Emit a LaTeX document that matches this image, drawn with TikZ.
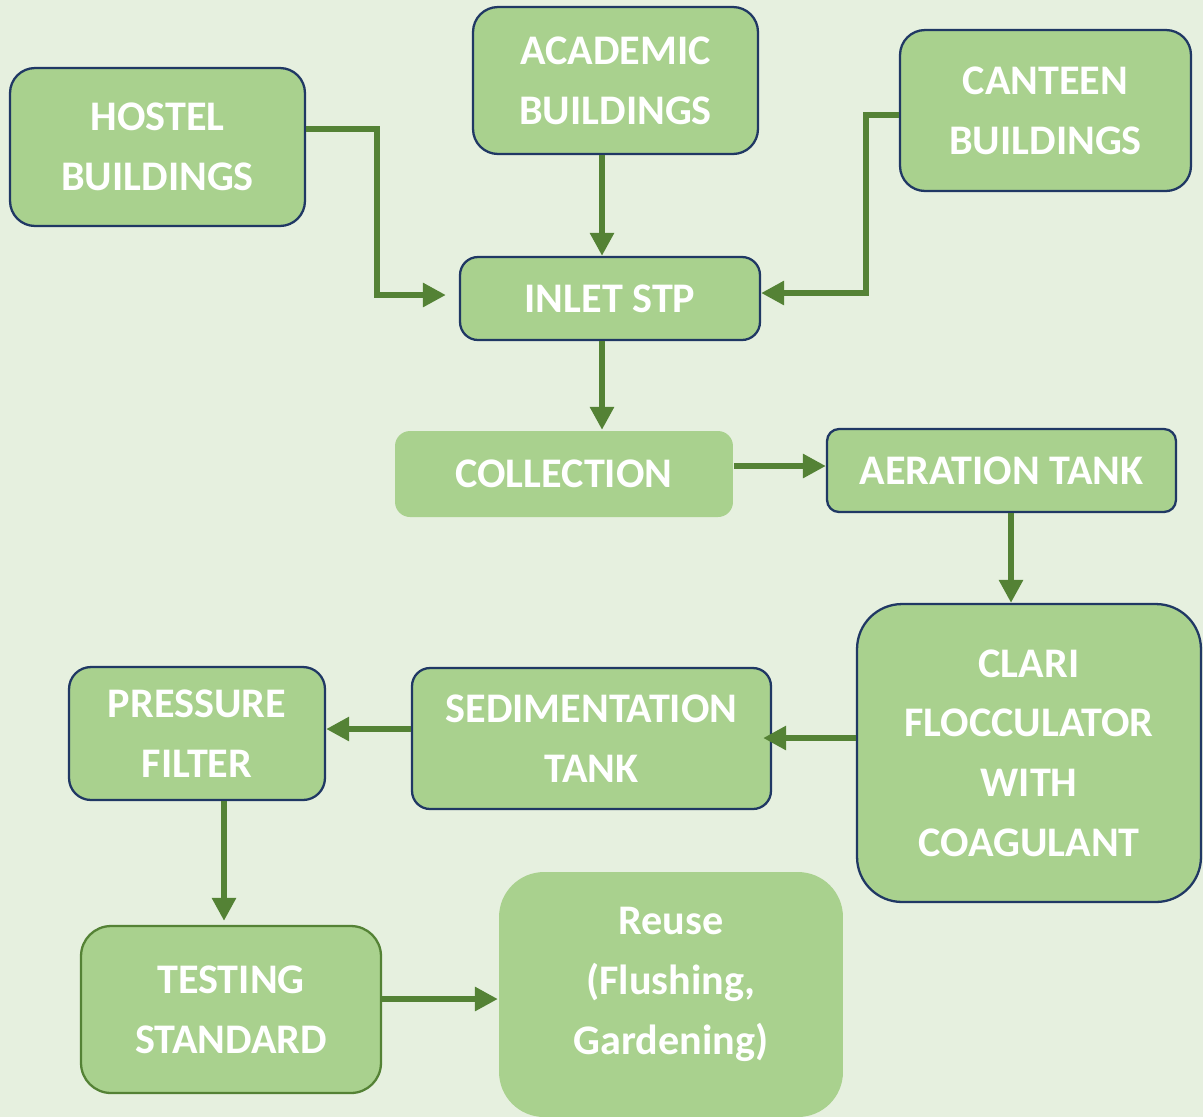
\documentclass[tikz,border=0pt]{standalone}
\usepackage{fontspec}
\setmainfont{Carlito}
\usepackage{xcolor}
\usepackage{tikz}
\usetikzlibrary{arrows.meta,positioning}
\definecolor{bg}{HTML}{E6F0DF}
\definecolor{boxfill}{HTML}{A9D18E}
\definecolor{navy}{HTML}{203864}
\definecolor{flowgreen}{HTML}{548235}
\tikzset{
    stage/.style={fill=boxfill, draw=navy, line width=1.3pt, text=white,
        font=\fontsize{24}{34}\selectfont\bfseries, align=center, inner sep=0pt},
    flow/.style={draw=flowgreen, line width=0.12cm,
        -{Triangle[length=0.46cm,width=0.46cm]}}
}

\begin{document}
\begin{tikzpicture}[x=0.02cm,y=-0.02cm]
        \fill[bg] (0,0) rectangle (1203,1117);
        \useasboundingbox (0,0) rectangle (1203,1117);

        \node[stage, rounded corners=0.5cm, minimum width=5.9cm, minimum height=3.16cm]
            (hostel) at (157.5,147) {HOSTEL\\BUILDINGS};
        \node[stage, rounded corners=0.5cm, minimum width=5.7cm, minimum height=2.94cm]
            (academic) at (615.5,80.5) {ACADEMIC\\BUILDINGS};
        \node[stage, rounded corners=0.5cm, minimum width=5.82cm, minimum height=3.22cm]
            (canteen) at (1045.5,110.5) {CANTEEN\\BUILDINGS};
        \node[stage, rounded corners=0.36cm, minimum width=6cm, minimum height=1.66cm]
            (inlet) at (610,298.5) {INLET STP};
        \node[stage, draw=none, rounded corners=0.3cm, minimum width=6.76cm, minimum height=1.72cm]
            (collection) at (564,474) {COLLECTION};
        \node[stage, rounded corners=0.24cm, minimum width=6.98cm, minimum height=1.66cm]
            (aeration) at (1001.5,470.5) {AERATION TANK};
        \node[stage, rounded corners=0.9cm, minimum width=6.88cm, minimum height=5.96cm]
            (clari) at (1029,753) {CLARI\\FLOCCULATOR\\WITH\\COAGULANT};
        \node[stage, rounded corners=0.36cm, minimum width=7.18cm, minimum height=2.82cm]
            (sedimentation) at (591.5,738.5) {SEDIMENTATION\\TANK};
        \node[stage, rounded corners=0.44cm, minimum width=5.12cm, minimum height=2.66cm]
            (pressure) at (197,733.5) {PRESSURE\\FILTER};
        \node[stage, draw=flowgreen, rounded corners=0.6cm, minimum width=6cm, minimum height=3.34cm]
            (testing) at (231,1009.5) {TESTING\\STANDARD};
        \node[stage, draw=none, rounded corners=0.9cm, minimum width=6.88cm, minimum height=4.9cm,
            label={[text=white, font=\fontsize{24}{34}\selectfont\bfseries, align=center,
            yshift=0.2cm]center:Reuse\\(Flushing,\\Gardening)}]
            (reuse) at (671,994.5) {};

        \draw[flow, shorten >=0.26cm] (hostel.east |- 0,129) -| (377,295) -- (inlet.west |- 0,295);
        \draw[flow] (602,0 |- academic.south) -- (602,0 |- inlet.north);
        \draw[flow] (canteen.west |- 0,115) -| (866,293) -- (inlet.east |- 0,293);
        \draw[flow] (602,0 |- inlet.south) -- (602,0 |- collection.north);
        \draw[flow] (collection.east |- 0,466) -- (aeration.west |- 0,466);
        \draw[flow] (1011,0 |- aeration.south) -- (1011,0 |- clari.north);
        \draw[flow, shorten >=-0.18cm] (clari.west |- 0,738) -- (sedimentation.east |- 0,738);
        \draw[flow] (sedimentation.west |- 0,729) -- (pressure.east |- 0,729);
        \draw[flow, shorten >=0.08cm] (224,0 |- pressure.south) -- (224,0 |- testing.north);
        \draw[flow] (testing.east |- 0,999) -- (reuse.west |- 0,999);
\end{tikzpicture}
\end{document}
